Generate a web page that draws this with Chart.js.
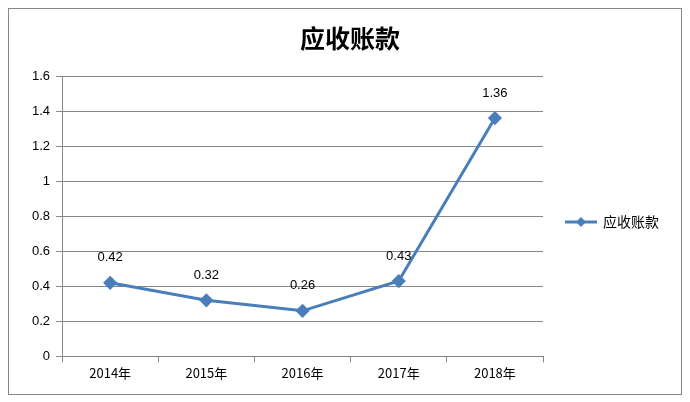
<!DOCTYPE html>
<html><head><meta charset="utf-8">
<script src="https://cdn.jsdelivr.net/npm/chart.js@4"></script>
<style>html,body{margin:0;padding:0;background:#fff}#w{width:690px;height:402px}</style>
</head><body><div id="w"><canvas id="c" width="690" height="402"></canvas></div>
<script>
const title = "应收账款";
const categories = ["2014年","2015年","2016年","2017年","2018年"];
const seriesName = "应收账款";
const values = [0.42,0.32,0.26,0.43,1.36];
const color = "#4a7ebb";
const font = "'Noto Sans CJK SC', 'Liberation Sans', sans-serif";

function diamond(ctx,x,y,r){ctx.beginPath();ctx.moveTo(x,y-r);ctx.lineTo(x+r,y);ctx.lineTo(x,y+r);ctx.lineTo(x-r,y);ctx.closePath();ctx.fill();}

const deco = {
  id:'deco',
  beforeDraw(ch){const c=ch.ctx;c.save();c.fillStyle='#fff';c.fillRect(0,0,690,402);c.strokeStyle='#868686';c.lineWidth=1;c.strokeRect(8.5,8.5,673,386);c.restore();},
  afterDraw(ch){
    const c=ch.ctx;c.save();
    c.fillStyle='#000';c.font="bold 25px "+font;c.textAlign='center';c.textBaseline='middle';
    c.fillText(title,350,38);
    const meta=ch.getDatasetMeta(0);
    c.font="13px 'Liberation Sans', sans-serif";
    meta.data.forEach((p,i)=>{c.fillText(values[i].toFixed(2),p.x,p.y-25);});
    const ly=222;c.strokeStyle=color;c.lineWidth=3;c.beginPath();c.moveTo(565,ly);c.lineTo(597,ly);c.stroke();
    c.fillStyle=color;diamond(c,581,ly,5);
    c.fillStyle='#000';c.textAlign='left';c.font="14px "+font;c.fillText(seriesName,603,ly);
    c.restore();
  }
};

new Chart(document.getElementById('c'),{
  type:'line',
  data:{labels:categories,datasets:[{label:seriesName,data:values,borderColor:color,backgroundColor:color,borderWidth:3,
    pointStyle:'rectRot',pointRadius:5,pointHoverRadius:5,tension:0}]},
  options:{responsive:false,animation:false,devicePixelRatio:1,
    layout:{padding:{left:26,right:147,top:76,bottom:18}},
    plugins:{legend:{display:false},tooltip:{enabled:false},title:{display:false}},
    scales:{
      x:{offset:true,grid:{display:true,drawOnChartArea:false,offset:true,color:'#868686',tickLength:6},
        border:{color:'#868686'},ticks:{color:'#000',font:{size:13,family:font}}},
      y:{min:0,max:1.6,ticks:{stepSize:0.2,color:'#000',font:{size:13,family:"'Liberation Sans', sans-serif"},padding:6,
        callback:v=>Math.round(v*10)/10+''},
        grid:{color:'#868686',tickLength:6},border:{color:'#868686'}}
    }},
  plugins:[deco]
});
</script></body></html>
